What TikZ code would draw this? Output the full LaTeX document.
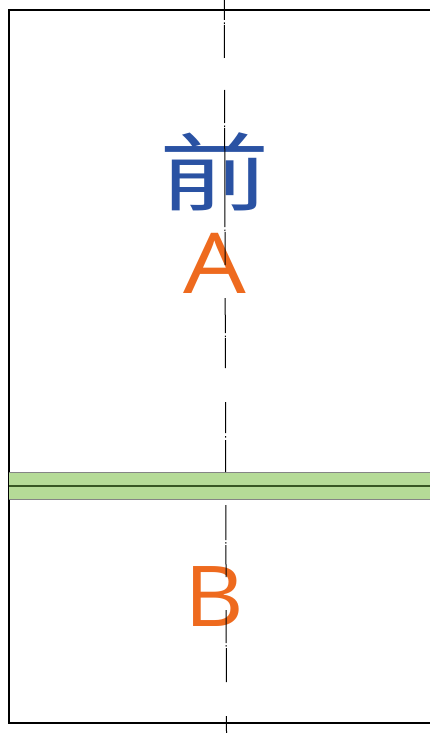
\documentclass[tikz,border=0pt]{standalone}
\usepackage{fontspec}
\newfontfamily\cjk{Noto Sans CJK SC}
\newfontfamily\lat{Open Sans}
\definecolor{qblue}{HTML}{2A52A3}
\definecolor{qorange}{HTML}{EE6A1E}
\definecolor{qgreen}{HTML}{B5DB97}
\definecolor{qdkgreen}{HTML}{375623}
\definecolor{qgray}{HTML}{858585}
\tikzset{
  frame/.style={draw=black, line width=1.5pt},
  axisline/.style={draw=black, line width=1pt},
  bandfill/.style={fill=qgreen, draw=none},
  bandedge/.style={draw=qgray, line width=1.5pt},
  bandmid/.style={draw=qdkgreen, line width=1.5pt},
  cjklabel/.style={text=qblue, inner sep=0pt, font=\cjk\fontsize{85}{85}\selectfont, xscale=1.3},
  latlabel/.style={text=qorange, inner sep=0pt, font=\lat\fontsize{84}{84}\selectfont, xscale=1.18}
}
\begin{document}
\begin{tikzpicture}[x=1pt,y=-1pt]
\useasboundingbox (0,0) rectangle (430,733);
\clip (0,0) rectangle (430,733);
% frame
\draw[frame] (440,10) -- (9,10) -- (9,723) -- (440,723);
% band
\fill[bandfill] (9,472.5) rectangle (440,499.5);
\draw[bandedge] (9,472.5) -- (440,472.5);
\draw[bandedge] (9,499.5) -- (440,499.5);
\draw[bandmid] (9,486) -- (440,486);
% labels
\node[cjklabel] (front) at (215,171.5) {前};
\node[latlabel] (labelA) at (215,263) {A};
\node[latlabel, xscale=0.93] (labelB) at (214,597) {B};
% centre line (dash-dot), drawn over the labels
\foreach \a/\b in {0/20, 22.5/24, 25/58, 90/123, 125.5/127, 128/227, 229.5/231, 232/265, 298/333, 335.5/337, 338/368, 402/433, 436/437.5, 440/472, 505/540, 542/543.5, 545/577, 610/643, 645/646.5, 648/682, 716/733}
  \draw[axisline] ({224.3+0.003*\a},\a) -- ({224.3+0.003*\b},\b);
\end{tikzpicture}
\end{document}
